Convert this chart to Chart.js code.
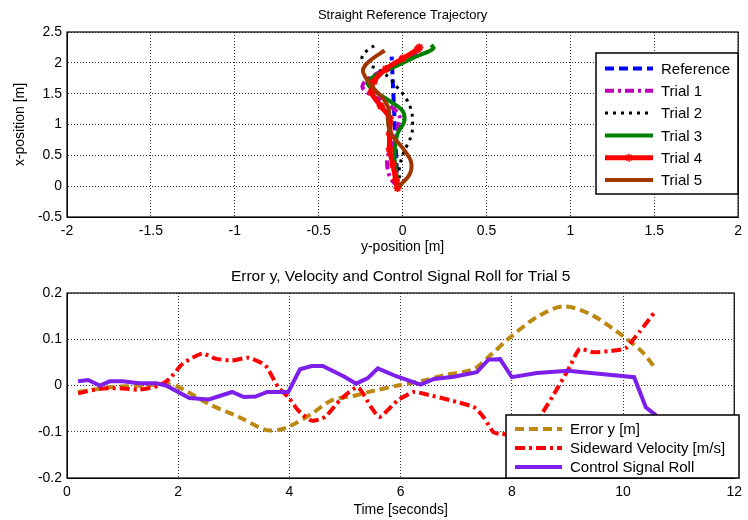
<!DOCTYPE html>
<html>
<head>
<meta charset="utf-8">
<script src="https://cdn.jsdelivr.net/npm/chart.js@4.4.1/dist/chart.umd.min.js"></script>
<style>
  body { margin: 0; background: #fff; }
  #wrap { position: relative; width: 748px; height: 520px; }
  canvas { position: absolute; left: 0; }
</style>
</head>
<body>
<div id="wrap">
  <canvas id="trajChart" width="748" height="262" style="top:0"></canvas>
  <canvas id="errChart" width="748" height="258" style="top:262px"></canvas>
</div>
<script>
// ---- top plot: y-position (horizontal) vs x-position (vertical) ----
const trajXTicks = [-2, -1.5, -1, -0.5, 0, 0.5, 1, 1.5, 2];
const trajYTicks = [-0.5, 0, 0.5, 1, 1.5, 2, 2.5];

const refY = [-0.03, -0.065];
const refX = [0, 2.1];

const trial1Y = [-0.03, -0.07, -0.09, -0.09, -0.06, -0.03, -0.02, -0.1, -0.2, -0.24, -0.2, -0.08, 0.03, 0.1];
const trial1X = [0, 0.12, 0.3, 0.45, 0.7, 0.95, 1.15, 1.35, 1.5, 1.62, 1.75, 1.92, 2.07, 2.17];

const trial2Y = [-0.01, -0.02, 0.0, 0.03, 0.055, 0.06, 0.05, 0.012, -0.028, -0.077, -0.15, -0.23, -0.24, -0.2, -0.157];
const trial2X = [0, 0.25, 0.5, 0.68, 0.85, 1.05, 1.25, 1.46, 1.59, 1.755, 1.9, 2.0, 2.12, 2.22, 2.3];

const trial3Y = [-0.028, -0.038, -0.048, -0.03, 0.01, 0.0, -0.06, -0.17, -0.21, -0.17, -0.06, 0.08, 0.16, 0.185, 0.17];
const trial3X = [0, 0.24, 0.51, 0.85, 1.05, 1.22, 1.35, 1.55, 1.68, 1.78, 1.92, 2.1, 2.19, 2.24, 2.29];

const trial4Y = [-0.03, -0.04, -0.058, -0.077, -0.077, -0.077, -0.13, -0.185, -0.17, -0.1, 0.0, 0.09, 0.1];
const trial4X = [-0.03, 0.1, 0.35, 0.6, 0.85, 1.1, 1.3, 1.52, 1.7, 1.9, 2.07, 2.22, 2.25];

const trial5Y = [-0.02, 0.042, 0.05, 0.0, -0.067, -0.087, -0.08, -0.11, -0.16, -0.21, -0.236, -0.2, -0.107];
const trial5X = [0, 0.19, 0.4, 0.62, 0.84, 1.05, 1.22, 1.4, 1.55, 1.72, 1.88, 2.02, 2.2];

// ---- bottom plot: trial 5 signals over time ----
const timeTicks = [0, 2, 4, 6, 8, 10, 12];
const signalTicks = [-0.2, -0.1, 0, 0.1, 0.2];

const errT = [0.2, 0.77, 1.36, 1.82, 2.02, 2.55, 3.09, 3.57, 3.8, 4.04, 4.4, 4.76, 5.17, 5.53, 5.95, 6.42, 6.78, 7.32, 7.61, 7.97, 8.45, 8.92, 9.4, 9.99, 10.35, 10.59];
const errY = [-0.014, -0.004, 0, 0.003, -0.004, -0.04, -0.068, -0.096, -0.096, -0.086, -0.061, -0.032, -0.022, -0.011, 0, 0.011, 0.022, 0.036, 0.065, 0.104, 0.148, 0.171, 0.155, 0.108, 0.072, 0.036];

const velT = [0.2, 0.59, 0.95, 1.3, 1.66, 1.84, 2.08, 2.43, 2.67, 2.97, 3.27, 3.57, 3.8, 3.98, 4.16, 4.4, 4.64, 4.93, 5.23, 5.47, 5.62, 5.95, 6.24, 6.42, 6.9, 7.32, 7.49, 7.67, 7.82, 8.05, 8.3, 8.5, 8.83, 9.04, 9.22, 9.46, 9.88, 10.05, 10.29, 10.59];
const velY = [-0.017, -0.007, -0.006, -0.009, 0, 0.014, 0.047, 0.069, 0.058, 0.054, 0.06, 0.043, -0.004, -0.025, -0.054, -0.076, -0.068, -0.029, -0.004, -0.047, -0.068, -0.032, -0.014, -0.018, -0.032, -0.047, -0.068, -0.101, -0.105, -0.105, -0.09, -0.068, -0.004, 0.04, 0.079, 0.072, 0.076, 0.081, 0.115, 0.162];

const rollT = [0.2, 0.38, 0.59, 0.77, 1.0, 1.3, 1.6, 1.78, 2.2, 2.55, 2.97, 3.18, 3.39, 3.6, 3.98, 4.19, 4.4, 4.6, 4.99, 5.2, 5.41, 5.59, 5.92, 6.36, 6.6, 6.96, 7.37, 7.58, 7.79, 8.0, 8.45, 9.01, 9.7, 10.2, 10.41, 10.6];
const rollY = [0.009, 0.012, 0.0, 0.009, 0.009, 0.005, 0.005, 0.0, -0.027, -0.03, -0.014, -0.025, -0.024, -0.014, -0.014, 0.035, 0.042, 0.042, 0.019, 0.004, 0.016, 0.037, 0.02, 0.002, 0.014, 0.019, 0.029, 0.056, 0.057, 0.018, 0.027, 0.032, 0.024, 0.018, -0.047, -0.065];

Chart.defaults.font.family = '"Liberation Sans", Arial, sans-serif';
Chart.defaults.color = '#000';

function pts(xs, ys) {
  return xs.map((x, i) => ({ x: x, y: ys[i] }));
}

// axes box, title over the plot area and a boxed legend, matlab style
const matlabBox = {
  id: 'matlabBox',
  afterDatasetsDraw(chart, args, opts) {
    const ctx = chart.ctx;
    const a = chart.chartArea;
    ctx.save();
    ctx.strokeStyle = '#000';
    ctx.lineWidth = 1.2;
    ctx.setLineDash([]);
    ctx.strokeRect(a.left, a.top, a.right - a.left, a.bottom - a.top);

    ctx.fillStyle = '#000';
    ctx.font = opts.titleSize + 'px "Liberation Sans", Arial, sans-serif';
    ctx.textAlign = 'center';
    ctx.textBaseline = 'middle';
    ctx.fillText(opts.title, (a.left + a.right) / 2, opts.titleY);
    ctx.textAlign = 'left';

    ctx.fillStyle = '#fff';
    ctx.fillRect(opts.x, opts.y, opts.w, opts.h);
    ctx.lineWidth = 1.5;
    ctx.strokeRect(opts.x, opts.y, opts.w, opts.h);

    chart.data.datasets.forEach(function (ds, i) {
      const yy = opts.y + opts.first + i * opts.step;
      const x0 = opts.x + 9;
      ctx.save();
      ctx.strokeStyle = ds.borderColor;
      ctx.lineWidth = ds.borderWidth;
      ctx.setLineDash(ds.borderDash || []);
      ctx.beginPath();
      ctx.moveTo(x0, yy);
      ctx.lineTo(x0 + opts.sample, yy);
      ctx.stroke();
      ctx.restore();
      if (ds.pointStyle === 'star') {
        ctx.save();
        ctx.strokeStyle = ds.borderColor;
        ctx.fillStyle = ds.borderColor;
        Chart.helpers.drawPoint(ctx, { pointStyle: 'star', radius: 4, borderWidth: 2 }, x0 + opts.sample / 2, yy);
        ctx.restore();
      }
      ctx.fillStyle = '#000';
      ctx.font = '15px "Liberation Sans", Arial, sans-serif';
      ctx.textBaseline = 'middle';
      ctx.fillText(ds.label, x0 + opts.sample + 8, yy + 1);
    });
    ctx.restore();
  }
};

function fixedTicks(list) {
  return function (scale) {
    scale.ticks = list.map(v => ({ value: v }));
  };
}

function plainLabel(v) {
  return String(v);
}

function gridOpts() {
  return { color: '#000', lineWidth: 0.8, drawTicks: false };
}

let ctx = document.getElementById('trajChart').getContext('2d');
const trajChart = new Chart(ctx, {
  type: 'scatter',
  data: {
    datasets: [{
      label: 'Reference',
      data: pts(refY, refX),
      showLine: true,
      borderColor: 'rgb(0,0,255)',
      borderWidth: 4,
      borderDash: [9, 5],
      pointRadius: 0,
      order: 5
    }, {
      label: 'Trial 1',
      data: pts(trial1Y, trial1X),
      showLine: true,
      borderColor: 'rgb(191,0,191)',
      borderWidth: 4,
      borderDash: [9, 4, 3, 4],
      pointRadius: 0,
      tension: 0.35,
      order: 4
    }, {
      label: 'Trial 2',
      data: pts(trial2Y, trial2X),
      showLine: true,
      borderColor: '#000',
      borderWidth: 3,
      borderDash: [3, 5],
      pointRadius: 0,
      tension: 0.35,
      order: 3
    }, {
      label: 'Trial 3',
      data: pts(trial3Y, trial3X),
      showLine: true,
      borderColor: 'rgb(0,128,0)',
      borderWidth: 4,
      pointRadius: 0,
      tension: 0.35,
      order: 2
    }, {
      label: 'Trial 4',
      data: pts(trial4Y, trial4X),
      showLine: true,
      borderColor: 'rgb(255,0,0)',
      backgroundColor: 'rgb(255,0,0)',
      borderWidth: 5,
      pointStyle: 'star',
      pointRadius: 4,
      pointBorderWidth: 2,
      tension: 0.35,
      order: 1
    }, {
      label: 'Trial 5',
      data: pts(trial5Y, trial5X),
      showLine: true,
      borderColor: 'rgb(160,55,0)',
      borderWidth: 4,
      pointRadius: 0,
      tension: 0.35,
      order: 0
    }]
  },
  options: {
    responsive: false,
    animation: false,
    layout: { padding: { left: 0, right: 9, top: 32, bottom: 0 } },
    plugins: {
      legend: { display: false },
      tooltip: { enabled: false },
      title: { display: false },
      matlabBox: {
        title: 'Straight Reference Trajectory', titleSize: 13, titleY: 15,
        x: 596, y: 53, w: 142, h: 141, first: 15.5, step: 22.3, sample: 48
      }
    },
    scales: {
      x: {
        type: 'linear',
        min: -2, max: 2,
        afterBuildTicks: fixedTicks(trajXTicks),
        afterFit: function (s) { s.height = 45; },
        grid: gridOpts(),
        border: { display: true, color: '#000', dash: [1, 2] },
        ticks: { font: { size: 14 }, padding: 6, maxRotation: 0, autoSkip: false, callback: plainLabel },
        title: { display: true, text: 'y-position [m]', font: { size: 14 }, padding: { top: 0, bottom: 6.6 } }
      },
      y: {
        type: 'linear',
        min: -0.5, max: 2.5,
        afterBuildTicks: fixedTicks(trajYTicks),
        afterFit: function (s) { s.width = 67; },
        grid: gridOpts(),
        border: { display: true, color: '#000', dash: [1, 2] },
        ticks: { font: { size: 14 }, padding: 5, autoSkip: false, callback: plainLabel },
        title: { display: true, text: 'x-position [m]', font: { size: 14 }, padding: { top: 11.6, bottom: 0 } }
      }
    }
  },
  plugins: [matlabBox]
});

let ctx2 = document.getElementById('errChart').getContext('2d');
const errChart = new Chart(ctx2, {
  type: 'scatter',
  data: {
    datasets: [{
      label: 'Error y [m]',
      data: pts(errT, errY),
      showLine: true,
      borderColor: 'rgb(188,136,16)',
      borderWidth: 4,
      borderDash: [9, 5],
      pointRadius: 0,
      tension: 0.3,
      order: 2
    }, {
      label: 'Sideward Velocity [m/s]',
      data: pts(velT, velY),
      showLine: true,
      borderColor: 'rgb(255,0,0)',
      borderWidth: 4,
      borderDash: [10, 4, 3, 4],
      pointRadius: 0,
      tension: 0.2,
      order: 1
    }, {
      label: 'Control Signal Roll',
      data: pts(rollT, rollY),
      showLine: true,
      borderColor: 'rgb(125,30,235)',
      borderWidth: 4,
      pointRadius: 0,
      order: 0
    }]
  },
  options: {
    responsive: false,
    animation: false,
    layout: { padding: { left: 0, right: 9, top: 31, bottom: 0 } },
    plugins: {
      legend: { display: false },
      tooltip: { enabled: false },
      title: { display: false },
      matlabBox: {
        title: 'Error y, Velocity and Control Signal Roll for Trial 5', titleSize: 15.5, titleY: 15,
        x: 506, y: 153, w: 233, h: 63, first: 14, step: 19, sample: 47
      }
    },
    scales: {
      x: {
        type: 'linear',
        min: 0, max: 12,
        afterBuildTicks: fixedTicks(timeTicks),
        afterFit: function (s) { s.height = 42; },
        grid: gridOpts(),
        border: { display: true, color: '#000', dash: [1, 2] },
        ticks: { font: { size: 14 }, padding: 6, maxRotation: 0, autoSkip: false, callback: plainLabel },
        title: { display: true, text: 'Time [seconds]', font: { size: 14 }, padding: { top: 0, bottom: 1.6 } }
      },
      y: {
        type: 'linear',
        min: -0.2, max: 0.2,
        afterBuildTicks: fixedTicks(signalTicks),
        afterFit: function (s) { s.width = 67; },
        grid: gridOpts(),
        border: { display: true, color: '#000', dash: [1, 2] },
        ticks: { font: { size: 14 }, padding: 5, autoSkip: false, callback: plainLabel }
      }
    }
  },
  plugins: [matlabBox]
});
</script>
</body>
</html>
